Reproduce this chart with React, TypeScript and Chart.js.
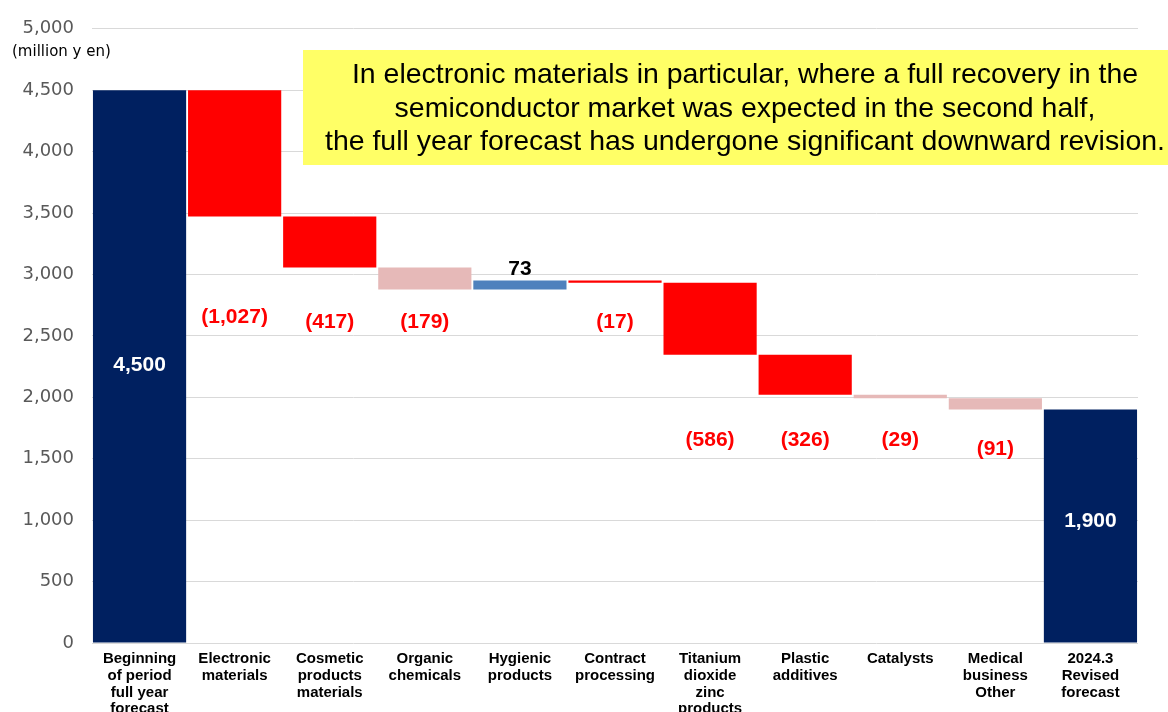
import React, { useEffect, useRef } from 'react';
import { Chart, registerables } from 'chart.js';

Chart.register(...registerables);

const categories: string[][] = [
  ['Beginning', 'of period', 'full year', 'forecast'],
  ['Electronic', 'materials'],
  ['Cosmetic', 'products', 'materials'],
  ['Organic', 'chemicals'],
  ['Hygienic', 'products'],
  ['Contract', 'processing'],
  ['Titanium', 'dioxide', 'zinc', 'products'],
  ['Plastic', 'additives'],
  ['Catalysts'],
  ['Medical', 'business', 'Other'],
  ['2024.3', 'Revised', 'forecast'],
];

const startValue = 4500;
const changes = [-1027, -417, -179, 73, -17, -586, -326, -29, -91];
const endValue = 1900;

const valueLabels = ['4,500', '(1,027)', '(417)', '(179)', '73', '(17)', '(586)', '(326)', '(29)', '(91)', '1,900'];
// label anchor values (in million yen units on the y scale)
const labelAnchors = [2260, 2655, 2615, 2610, 3045, 2615, 1650, 1650, 1650, 1575, 990];

const barColors = ['#002060', '#FF0000', '#FF0000', '#E6B9B8', '#4F81BD', '#FF0000', '#FF0000', '#FF0000', '#E6B9B8', '#E6B9B8', '#002060'];
const labelColors = ['#FFFFFF', '#FF0000', '#FF0000', '#FF0000', '#000000', '#FF0000', '#FF0000', '#FF0000', '#FF0000', '#FF0000', '#FFFFFF'];

const yTickValues = [0, 500, 1000, 1500, 2000, 2500, 3000, 3500, 4000, 4500, 5000];

const unitLabel = '(million y en)';
const noteLines = [
  'In electronic materials in particular, where a full recovery in the',
  'semiconductor market was expected in the second half,',
  'the full year forecast has undergone significant downward revision.',
];

function buildRanges(): [number, number][] {
  const out: [number, number][] = [[0, startValue]];
  let cur = startValue;
  for (const c of changes) {
    const next = cur + c;
    out.push([Math.min(cur, next), Math.max(cur, next)]);
    cur = next;
  }
  out.push([0, endValue]);
  return out;
}

const FONT = '"Liberation Sans", Arial, sans-serif';
const TICK_FONT = '"DejaVu Sans", Verdana, sans-serif';

export default function App() {
  const ref = useRef<HTMLCanvasElement | null>(null);

  useEffect(() => {
    if (!ref.current) return;
    const labelsPlugin = {
      id: 'wfLabels',
      afterDatasetsDraw(chart: any) {
        const ctx = chart.ctx;
        const xs = chart.scales.x;
        const ys = chart.scales.y;
        ctx.save();
        ctx.textAlign = 'center';
        ctx.textBaseline = 'middle';
        ctx.font = `bold 21px ${FONT}`;
        valueLabels.forEach((t, i) => {
          ctx.fillStyle = labelColors[i];
          ctx.fillText(t, xs.getPixelForValue(i), ys.getPixelForValue(labelAnchors[i]));
        });
        ctx.restore();
      },
      afterDraw(chart: any) {
        const ctx = chart.ctx;
        ctx.save();
        // unit label
        ctx.font = `15px ${TICK_FONT}`;
        ctx.fillStyle = '#000000';
        ctx.textAlign = 'left';
        ctx.textBaseline = 'middle';
        ctx.fillText(unitLabel, 12, 52);
        // note box
        ctx.fillStyle = '#FFFF66';
        ctx.fillRect(303, 50, 865, 115);
        ctx.fillStyle = '#000000';
        ctx.font = `28px ${FONT}`;
        ctx.textAlign = 'center';
        const w3 = ctx.measureText(noteLines[2]).width;
        const sx = 840 / w3;
        const ysPos = [75, 109, 142];
        noteLines.forEach((l, i) => {
          ctx.save();
          ctx.translate(745, ysPos[i]);
          ctx.scale(sx, 1);
          ctx.fillText(l, 0, 0);
          ctx.restore();
        });
        ctx.restore();
      },
    };

    const chart = new Chart(ref.current, {
      type: 'bar',
      data: {
        labels: categories as any,
        datasets: [
          {
            data: buildRanges() as any,
            backgroundColor: barColors,
            borderWidth: 0,
            categoryPercentage: 1,
            barPercentage: 0.98,
          },
        ],
      },
      options: {
        responsive: false,
        animation: false,
        layout: { padding: { top: 24, right: 30, left: 0, bottom: 0 } },
        plugins: {
          legend: { display: false },
          tooltip: { enabled: false },
        },
        scales: {
          x: {
            grid: { display: false, drawTicks: false },
            border: { display: false },
            ticks: {
              color: '#000000',
              font: { family: FONT, size: 15, weight: 'bold', lineHeight: 1.13 },
              padding: 7,
              maxRotation: 0,
              autoSkip: false,
            },
            afterFit(scale: any) {
              scale.height = 69;
            },
          },
          y: {
            min: 0,
            max: 5000,
            grid: { color: '#D9D9D9', lineWidth: 1, drawTicks: false },
            border: { display: false },
            afterBuildTicks(scale: any) {
              scale.ticks = yTickValues.map((v) => ({ value: v }));
            },
            ticks: {
              color: '#595959',
              font: { family: TICK_FONT, size: 18 },
              padding: 18,
              callback: (v: any) => Number(v).toLocaleString('en-US'),
            },
            afterFit(scale: any) {
              scale.width = 92;
            },
          },
        },
      },
      plugins: [labelsPlugin],
    });
    return () => chart.destroy();
  }, []);

  return (
    <div style={{ position: 'fixed', left: 0, top: 0, width: 1168, height: 712, background: '#FFFFFF' }}>
      <canvas ref={ref} width={1168} height={712} style={{ display: 'block', width: 1168, height: 712 }} />
    </div>
  );
}
